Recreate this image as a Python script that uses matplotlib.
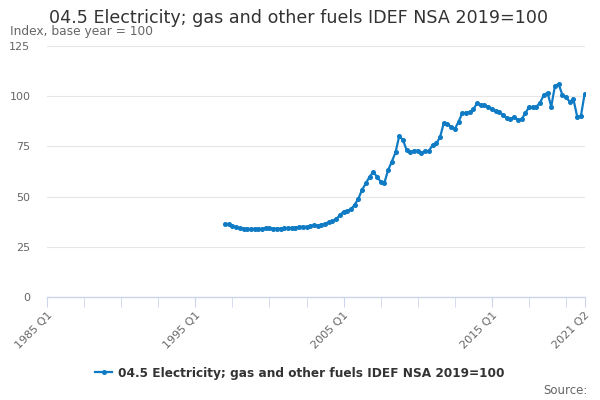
import matplotlib
matplotlib.use("Agg")
import matplotlib.pyplot as plt
from matplotlib.lines import Line2D

# Quarterly index values, 1997 Q1 .. 2021 Q2
start_year = 1997
values = [
    36.4, 36.2, 35.4, 34.7,
    34.4, 34.0, 33.9, 33.9,
    34.0, 34.0, 34.0, 34.5,
    34.3, 34.0, 34.1, 34.1,
    34.4, 34.3, 34.4, 34.6,
    34.9, 35.0, 34.9, 35.4,
    35.7, 35.6, 36.0, 36.5,
    37.2, 37.8, 38.8, 40.8,
    42.5, 43.0, 43.7, 46.0,
    49.0, 53.5, 56.6, 59.9,
    62.1, 60.0, 57.4, 56.9,
    63.2, 67.4, 72.0, 80.2,
    78.2, 73.2, 72.0, 72.9,
    72.9, 71.9, 72.6, 72.7,
    75.7, 76.5, 79.5, 86.5,
    86.2, 84.8, 83.7, 87.3,
    91.5, 91.8, 92.1, 93.5,
    96.5, 95.8, 95.6, 94.8,
    93.5, 92.5, 92.3, 90.6,
    89.0, 88.5, 89.8, 88.1,
    88.5, 91.5, 94.5, 94.5,
    94.8, 96.8, 100.6, 101.7,
    94.8, 105.1, 106.1, 100.6,
    99.4, 97.3, 98.4, 89.8,
    90.1, 101.1,
]
tick_labels = ["1985 Q1", "1995 Q1", "2005 Q1", "2015 Q1", "2021 Q2"]
y_ticks = [0, 25, 50, 75, 100, 125]
title = "04.5 Electricity; gas and other fuels IDEF NSA 2019=100"
subtitle = "Index, base year = 100"

def qidx(label):
    y, q = label.split(" Q")
    return (int(y) - 1985) * 4 + int(q) - 1

x0 = (start_year - 1985) * 4
xs = list(range(x0, x0 + len(values)))

plt.rcParams['font.family'] = ['DejaVu Sans']
fig = plt.figure(figsize=(6, 4), dpi=100)
ax = fig.add_axes([47 / 600, 103 / 400, (584.6 - 47) / 600, 251 / 400])

color = "#0f7bc4"
ax.plot(xs, values, color=color, lw=1.6, marker="o", ms=2.6, zorder=3)

ax.set_xlim(0, qidx("2021 Q2"))
ax.set_ylim(0, 125)
ax.set_yticks(y_ticks)
ax.set_yticklabels([str(v) for v in y_ticks])
ax.grid(axis="y", color="#e6e6e6", lw=0.8)
ax.set_axisbelow(True)

minor = list(range(0, qidx("2021 Q2"), 10)) + [qidx("2021 Q2")]
ax.set_xticks(minor, minor=True)
ax.set_xticks([qidx(l) for l in tick_labels])
ax.set_xticklabels(tick_labels, rotation=45, ha="right", rotation_mode="anchor")
ax.tick_params(axis="x", which="both", length=7.5, color="#ccd6eb", labelsize=8,
               labelcolor="#666666", pad=2)
ax.tick_params(axis="y", length=0, labelsize=8, labelcolor="#666666", pad=12)

for s in ["top", "right", "left"]:
    ax.spines[s].set_visible(False)
ax.spines["bottom"].set_color("#ccd6eb")
ax.spines["bottom"].set_linewidth(1)

fig.text(49 / 600, 1 - 18 / 400, title, fontsize=12.6, color="#333333", va="center")
fig.text(10 / 600, 1 - 32 / 400, subtitle, fontsize=8.8, color="#666666", va="center")

handle = Line2D([], [], color=color, lw=1.6, marker="o", ms=2.6)
fig.legend([handle], [title], loc="center", bbox_to_anchor=(0.5, 1 - 373 / 400),
           frameon=False, prop={"size": 8.7, "weight": "bold"}, labelcolor="#333333",
           handlelength=1.4, handletextpad=0.5)
fig.text(588 / 600, 1 - 390 / 400, "Source:", fontsize=8.5, color="#666666",
         ha="right", va="center")

fig.savefig("out.png", dpi=100)
